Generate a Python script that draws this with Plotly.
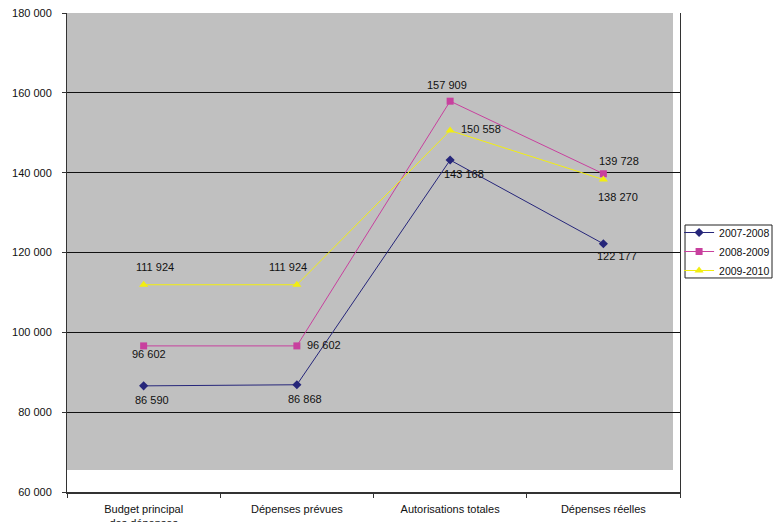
import plotly.graph_objects as go

# Budget categories and yearly values
categories = ["Budget principal<br>des dépenses", "Dépenses prévues",
              "Autorisations totales", "Dépenses réelles"]
years = ["2007-2008", "2008-2009", "2009-2010"]
values_2007_2008 = [86590, 86868, 143168, 122177]
values_2008_2009 = [96602, 96602, 157909, 139728]
values_2009_2010 = [111924, 111924, 150558, 138270]

y_ticks = [60000, 80000, 100000, 120000, 140000, 160000, 180000]

series = [values_2007_2008, values_2008_2009, values_2009_2010]
colors = ["#26267a", "#c8409e", "#f2ee10"]
symbols = ["diamond", "square", "triangle-up"]
marker_sizes = [7, 7, 8]

# Label offsets (pixels) for each series / point
label_shifts = [
    [(8, -14), (8, -14), (14, -14), (14, -12)],
    [(5, -8), (27, 1), (-3, 16), (16, 13)],
    [(11, 18), (-9, 18), (31, 2), (15, -17)],
]


def fmt(v):
    return f"{v:,}".replace(",", " ")


fig = go.Figure()

for name, vals, col, sym, ms in zip(years, series, colors, symbols, marker_sizes):
    fig.add_trace(go.Scatter(
        x=categories, y=vals, name=name, mode="lines+markers",
        line=dict(color=col, width=1),
        marker=dict(symbol=sym, size=ms, color=col),
    ))

annotations = []
for vals, shifts in zip(series, label_shifts):
    for cat, v, (dx, dy) in zip(categories, vals, shifts):
        annotations.append(dict(
            x=cat, y=v, xref="x", yref="y", text=fmt(v), showarrow=False,
            xshift=dx, yshift=dy,
            font=dict(family="Liberation Sans, Arial", size=11, color="#111111"),
        ))

shapes = [
    # Gray plot-area fill (stops short of the bottom and right edges)
    dict(type="rect", xref="paper", yref="paper",
         x0=0, x1=0.9886, y0=0.0459, y1=1,
         fillcolor="#c0c0c0", line=dict(width=0), layer="below"),
    # Legend frame
    dict(type="rect", xref="paper", yref="paper",
         x0=1.0082, x1=1.1501, y0=0.4468, y1=0.5574,
         fillcolor="rgba(0,0,0,0)", line=dict(color="#222222", width=1)),
]

fig.update_layout(
    width=774, height=522,
    margin=dict(l=67, r=94, t=13, b=30, autoexpand=False),
    paper_bgcolor="white", plot_bgcolor="white",
    separators=", ",
    font=dict(family="Liberation Sans, Arial", size=11, color="#111111"),
    showlegend=True,
    legend=dict(x=0.9985, y=0.572, xanchor="left", yanchor="top",
                borderwidth=0, bgcolor="rgba(0,0,0,0)",
                font=dict(size=10.5), tracegroupgap=0, itemwidth=30),
    annotations=annotations,
    shapes=shapes,
)

fig.update_xaxes(
    type="category", range=[-0.5, 3.5],
    showline=True, linecolor="#333333", linewidth=1.5,
    ticks="outside", tickson="boundaries", ticklen=4, tickcolor="#333333",
    ticklabelstandoff=6,
    showgrid=False, fixedrange=True,
)
fig.update_yaxes(
    range=[60000, 180000], tickvals=y_ticks, tickformat=",d",
    showline=True, linecolor="#333333", linewidth=1, mirror=True,
    ticks="outside", ticklen=4, tickcolor="#333333",
    ticklabelstandoff=8,
    showgrid=True, gridcolor="#111111", gridwidth=1,
    zeroline=False, fixedrange=True,
)

fig.write_html("out.html")
